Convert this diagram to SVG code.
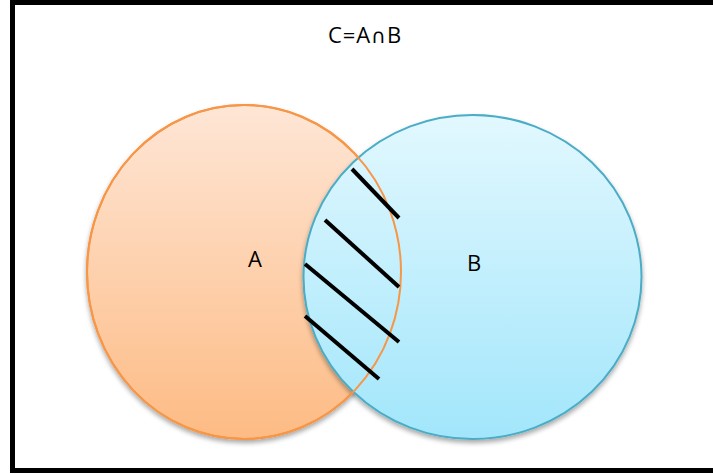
<svg xmlns="http://www.w3.org/2000/svg" width="713" height="474" viewBox="0 0 713 474">
<style>
.lbl{font-family:"Open Sans","Liberation Sans",sans-serif;font-size:22px;fill:#000}
.sym{font-family:"DejaVu Sans",sans-serif;font-size:20px}
.hatch{stroke:#000;stroke-width:4;stroke-linecap:butt}
</style>
<defs>
<linearGradient id="gA" x1="0" y1="0" x2="0" y2="1"><stop offset="0" stop-color="#fee6d6"/><stop offset="1" stop-color="#fdbb84"/></linearGradient>
<linearGradient id="gB" x1="0" y1="0" x2="0" y2="1"><stop offset="0" stop-color="#e2f8fe"/><stop offset="1" stop-color="#a2e6fb"/></linearGradient>
<filter id="sh" x="-10%" y="-10%" width="120%" height="125%"><feGaussianBlur in="SourceAlpha" stdDeviation="2.5"/><feOffset dx="0" dy="3"/><feComponentTransfer><feFuncA type="linear" slope="0.35"/></feComponentTransfer><feMerge><feMergeNode/><feMergeNode in="SourceGraphic"/></feMerge></filter>
</defs>
<rect x="0" y="0" width="713" height="474" fill="#fff"/>
<rect x="12.5" y="2.5" width="720" height="468" fill="#fff" stroke="#000" stroke-width="5"/>
<g id="setA"><ellipse cx="244" cy="272" rx="157" ry="167" fill="url(#gA)" stroke="#f79646" stroke-width="2" filter="url(#sh)"/></g>
<g id="setB"><ellipse cx="472.5" cy="277" rx="169" ry="162" fill="url(#gB)" stroke="#4bacc6" stroke-width="2" filter="url(#sh)"/></g>
<ellipse cx="244" cy="272" rx="157" ry="167" fill="none" stroke="#f79646" stroke-width="2"/>
<g id="hatching">
<line class="hatch" x1="352" y1="169" x2="399" y2="218"/>
<line class="hatch" x1="325" y1="220" x2="399" y2="287"/>
<line class="hatch" x1="305" y1="264" x2="399" y2="342"/>
<line class="hatch" x1="305" y1="316" x2="379" y2="379"/>
</g>
<text class="lbl" x="365" y="43" text-anchor="middle" letter-spacing="1">C=A<tspan class="sym">∩</tspan>B</text>
<text class="lbl" x="255" y="267" text-anchor="middle">A</text>
<text class="lbl" x="474" y="271" text-anchor="middle">B</text>
</svg>
